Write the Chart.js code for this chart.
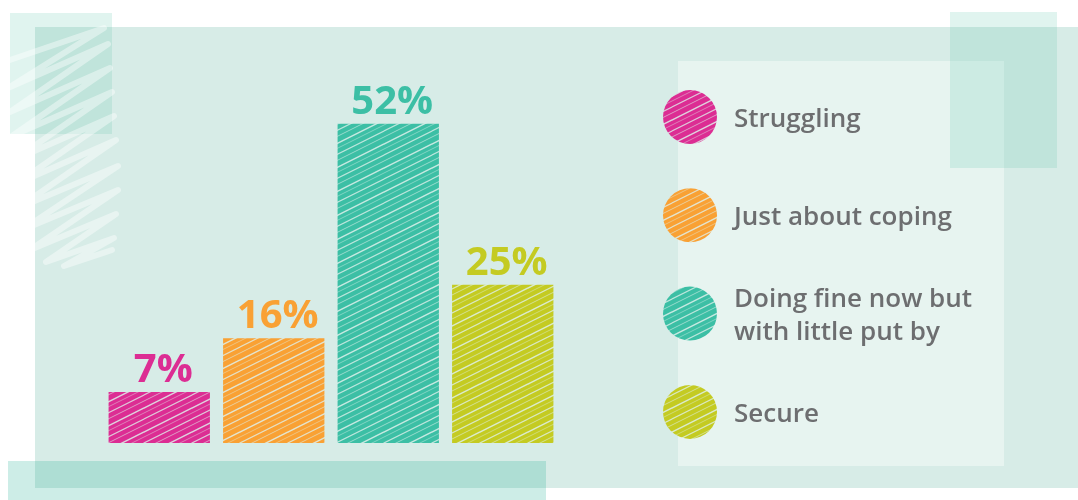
<!DOCTYPE html>
<html><head><meta charset="utf-8">
<script src="https://cdn.jsdelivr.net/npm/chart.js@4.4.1/dist/chart.umd.min.js"></script>
<style>
html,body{margin:0;padding:0;background:#fff;}
#wrap{position:relative;width:1078px;height:500px;overflow:hidden;background:#fff;}
.blk{position:absolute;}
svg{position:absolute;left:0;top:0;}
canvas{position:absolute;left:0;top:0;}
</style></head><body>
<div id="wrap">
<div class="blk" style="left:35px;top:27px;width:1043px;height:461px;background:#d7ece7"></div>
<div class="blk" style="left:10px;top:13px;width:102px;height:121px;background:rgba(100,200,175,0.2)"></div>
<svg width="140" height="290" viewBox="0 0 140 290">
  <polyline fill="none" stroke="rgba(255,255,255,0.42)" stroke-width="6" stroke-linejoin="round" stroke-linecap="round"
   points="4,62 104,28 8,88 108,44 10,112 110,68 12,136 112,92 14,160 114,116 16,184 116,140 18,208 118,166 22,230 118,190 30,250 116,214 46,262 114,238 64,266 112,250"/>
</svg>
<div class="blk" style="left:678px;top:61px;width:326px;height:405px;background:#e7f4f0"></div>
<div class="blk" style="left:950px;top:12px;width:107px;height:156px;background:rgba(100,200,175,0.2)"></div>
<div class="blk" style="left:8px;top:461px;width:538px;height:39px;background:rgba(33,175,148,0.225)"></div>
<canvas id="c" width="1078" height="500"></canvas>
</div>
<script>
// ---- data ----
const categories = [['Struggling'], ['Just about coping'], ['Doing fine now but', 'with little put by'], ['Secure']];
const values = [7, 16, 52, 25];
const valueLabels = values.map(v => v + '%');
const palette = ['#dc2d93', '#f9a134', '#3cbfa5', '#c4cb22'];

function hatch(color) {
  const W = 48, H = 24;
  const c = document.createElement('canvas'); c.width = W; c.height = H;
  const g = c.getContext('2d');
  g.fillStyle = color; g.fillRect(0, 0, W, H);
  [[0, 1.5, 0.85], [7, 0.8, 0.7], [13, 1.2, 0.8], [19, 0.7, 0.6]].forEach(([off, lw, a]) => {
    g.lineWidth = lw;
    g.strokeStyle = 'rgba(222,240,235,' + a + ')';
    for (let dx = -W; dx <= W; dx += W) for (let dy = -H; dy <= H; dy += H) {
      g.beginPath(); g.moveTo(dx, H + dy - off); g.lineTo(W + dx, dy - off); g.stroke();
    }
  });
  return g.createPattern(c, 'repeat');
}
const patterns = palette.map(hatch);

const overlay = {
  id: 'overlay',
  afterDatasetsDraw(chart) {
    const ctx = chart.ctx;
    const meta = chart.getDatasetMeta(0);
    ctx.save();
    ctx.font = '700 40px "Open Sans"';
    ctx.textAlign = 'center';
    ctx.textBaseline = 'alphabetic';
    meta.data.forEach((bar, i) => {
      ctx.fillStyle = palette[i];
      ctx.fillText(valueLabels[i], bar.x + 4, bar.y - 10);
    });
    const lx = 690, ly0 = 117, step = 98.3;
    chart.data.labels.forEach((lines, i) => {
      const cy = ly0 + i * step;
      ctx.beginPath(); ctx.arc(lx, cy, 27, 0, Math.PI * 2);
      ctx.fillStyle = patterns[i]; ctx.fill();
      ctx.font = '600 26px "Open Sans"';
      ctx.textAlign = 'left';
      ctx.fillStyle = '#6d6e70';
      lines.forEach((t, j) => ctx.fillText(t, 734, cy + 10 + (j - (lines.length - 1) / 2) * 33));
    });
    ctx.restore();
  }
};

new Chart(document.getElementById('c'), {
  type: 'bar',
  data: {
    labels: categories,
    datasets: [{
      data: values,
      backgroundColor: patterns,
      base: -1.56,
      barPercentage: 0.885,
      categoryPercentage: 1
    }]
  },
  options: {
    responsive: false,
    animation: false,
    layout: { padding: { left: 102, right: 518, top: 76, bottom: 57 } },
    plugins: { legend: { display: false }, tooltip: { enabled: false } },
    scales: {
      x: { display: false },
      y: { display: false, min: -1.56, max: 60 }
    }
  },
  plugins: [overlay]
});
</script>
</body></html>
